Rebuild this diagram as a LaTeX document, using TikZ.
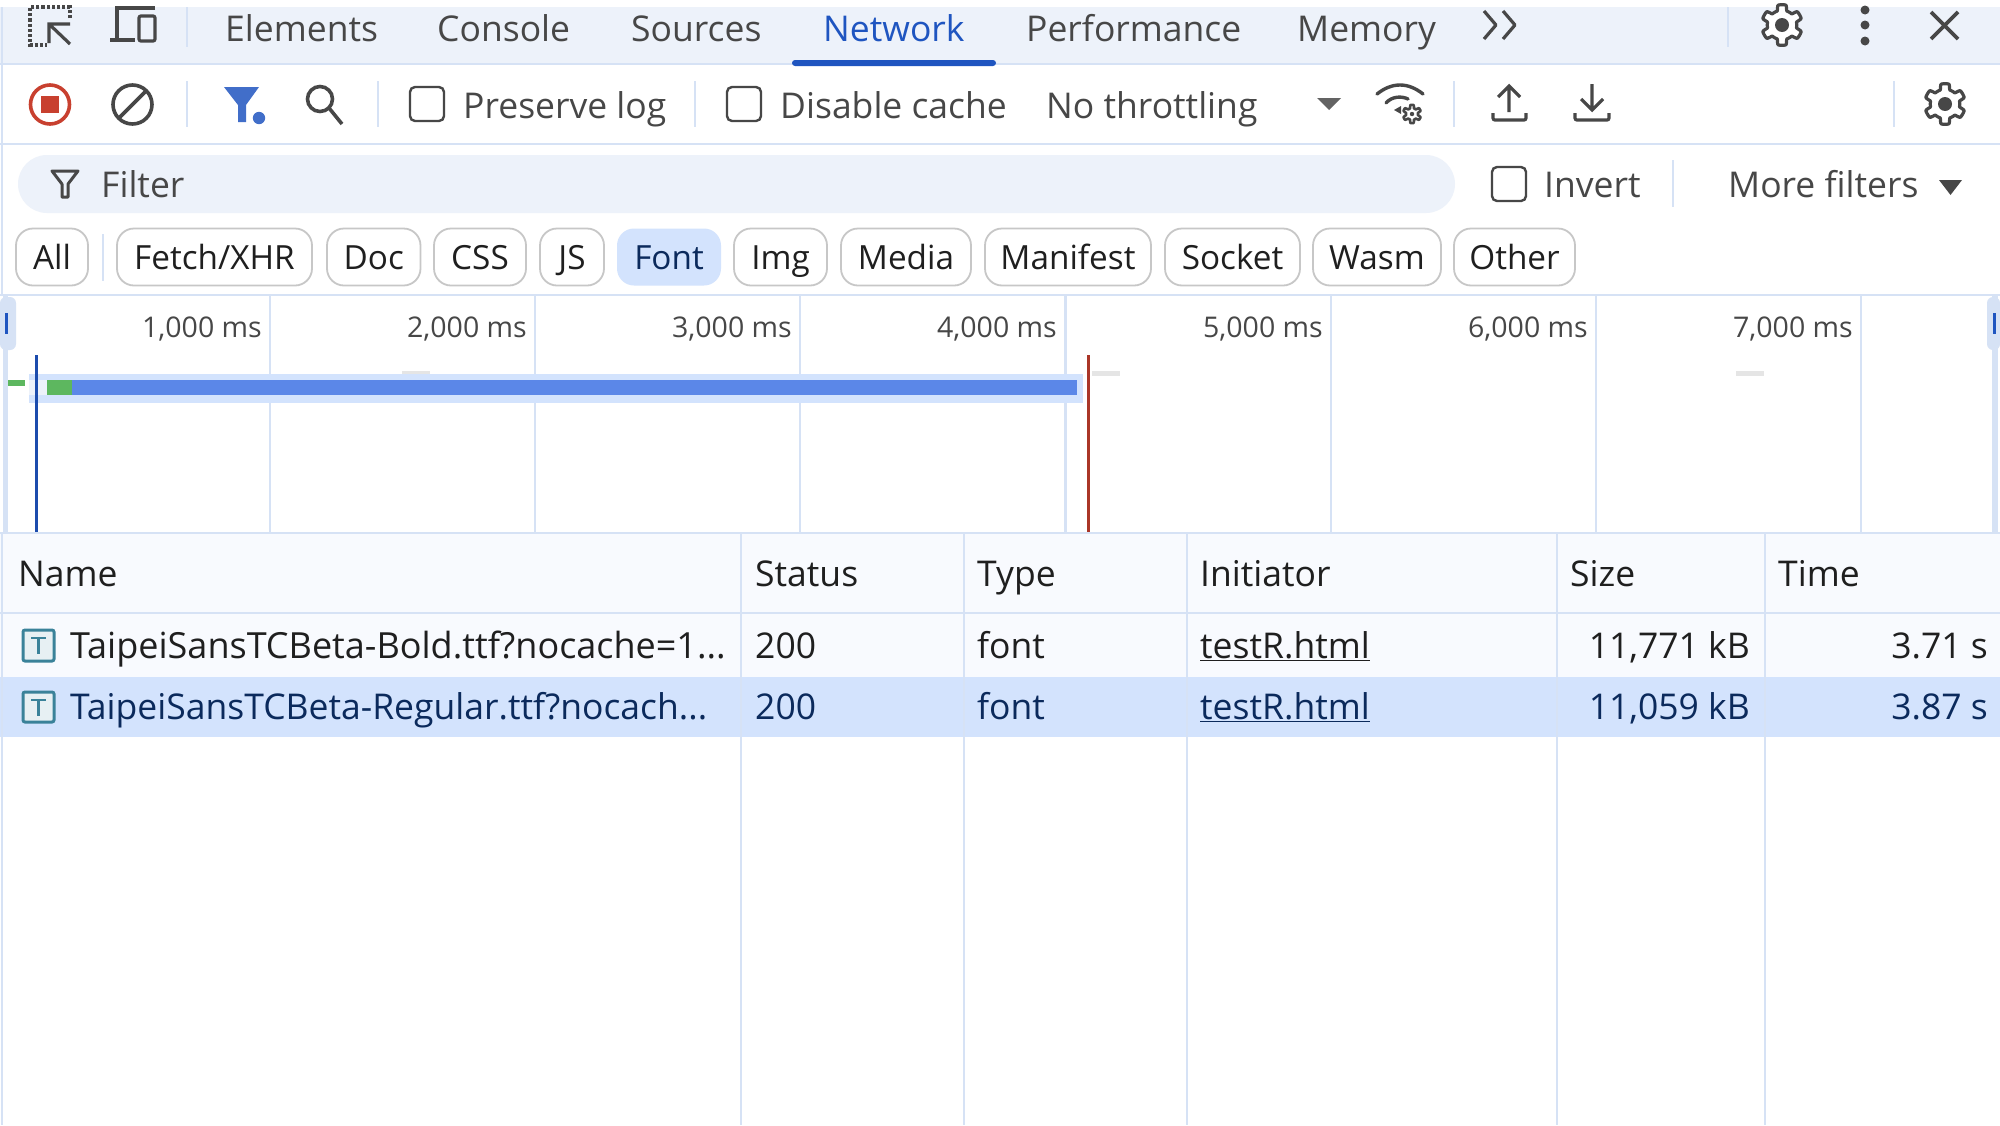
\documentclass[tikz,border=0pt]{standalone}
\usepackage{fontspec}
\setmainfont{Open Sans}
\definecolor{band}{HTML}{EDF2FA}
\definecolor{rule}{HTML}{D6E2F5}
\definecolor{sel}{HTML}{D3E3FD}
\definecolor{ink}{HTML}{474747}
\definecolor{dark}{HTML}{1F1F1F}
\definecolor{navy}{HTML}{0B2A5C}
\definecolor{netblue}{HTML}{1F55C0}
\definecolor{head}{HTML}{F8FAFE}
\definecolor{barblue}{HTML}{5B87E8}
\definecolor{bargreen}{HTML}{5DB75F}
\definecolor{recred}{HTML}{C8402F}
\definecolor{teal}{HTML}{3A8299}
\newcommand{\chipnode}[4]{\pgfmathsetmacro{\cxx}{(#2+#3)/2}\pgfmathsetmacro{\cww}{#3-#2}\node[chip,minimum width=\cww pt,#1] (chip#4) at (\cxx,257) {#4};}
\tikzset{
  x=1pt,y=-1pt,
  lbl/.style={inner sep=0pt,anchor=base west,font=\fontsize{35.5}{36}\selectfont,text=ink},
  rlbl/.style={lbl,anchor=base east},
  tick/.style={rlbl,font=\fontsize{28.5}{29}\selectfont},
  cell/.style={lbl,text=dark},
  rcell/.style={rlbl,text=dark},
  chip/.style={draw=black!22,line width=1.8pt,fill=white,rounded corners=17pt,minimum height=57pt,inner sep=0pt,text=dark,font=\fontsize{33.3}{34}\selectfont,anchor=center,text height=28pt,text depth=4pt},
  sep/.style={draw=rule,line width=2.5pt},
  icon/.style={draw=ink,line width=3.2pt},
  checkbox/.style={draw=ink,line width=2.4pt,rounded corners=5pt,fill=white},
  gearicon/.pic={
    \draw[icon,line join=round,fill=white,pic actions] plot[domain=0:360,samples=145] ({(17.5+2.8*max(min(3*cos(6*\x),1),-1))*sin(\x)},{(17.5+2.8*max(min(3*cos(6*\x),1),-1))*cos(\x)}) -- cycle;
    \fill[ink] (0,0) circle (7);
  }
}
\begin{document}
\begin{tikzpicture}
\useasboundingbox (0,0) rectangle (2000,1125);
\fill[white] (0,0) rectangle (2000,1125);
% panels
\fill[band] (0,7) rectangle (2000,64);
\fill[band,rounded corners=29pt] (18,155) rectangle (1455,213);
\fill[head] (0,534) rectangle (2000,677);
\fill[sel] (0,677) rectangle (2000,737);
% horizontal rules
\draw[sep] (0,64) -- (2000,64);
\draw[sep] (0,144) -- (2000,144);
\draw[sep] (0,295) -- (2000,295);
\draw[sep] (0,533) -- (2000,533);
\draw[sep] (0,613) -- (2000,613);
\draw[sep] (2,7) -- (2,296);
\draw[sep] (2,534) -- (2,1125);
% separators
\foreach \xx/\ya/\yb in {187/7/47,1728/7/47,187/81/127,378/81/127,695/81/127,1454/81/127,1894/81/127,1673/160/207,103/234/281}
  \draw[sep] (\xx,\ya) -- (\xx,\yb);
% grid
\foreach \xx in {270,535,800,1065.6,1331,1596,1861}
  \draw[sep] (\xx,296) -- (\xx,533);
% table columns
\foreach \xx in {741,964,1187,1557,1765}
  \draw[sep] (\xx,534) -- (\xx,1125);
% tabs
\node[lbl] (tabElements) at (225,41) {Elements};
\node[lbl] (tabConsole) at (437,41) {Console};
\node[lbl] (tabSources) at (631,41) {Sources};
\node[lbl,text=netblue] (tabNetwork) at (823,41) {Network};
\node[lbl] (tabPerformance) at (1026,41) {Performance};
\node[lbl] (tabMemory) at (1297,41) {Memory};
\fill[netblue,rounded corners=3pt] (792,60) rectangle (996,66);
\draw[icon,line join=round] (1484,11) -- (1496,25) -- (1484,39) (1503,11) -- (1515,25) -- (1503,39);
% top left icons
\draw[icon,dotted,line width=3.5pt] (70,18) -- (70,7) -- (30,7) -- (30,45) -- (47,45);
\draw[icon] (70,24) -- (49,24) -- (49,43) (49,24) -- (70,44);
\draw[icon] (155,8) -- (117,8) -- (117,40);
\draw[icon] (110,40) -- (135,40);
\draw[icon,rounded corners=2pt] (139,16) rectangle (155,41);
% top right icons
\pic at (1782,25) {gearicon};
\fill[ink] (1865,10) circle (4.5) (1865,25) circle (4.5) (1865,41) circle (4.5);
\draw[icon,line width=3.6pt] (1931,12) -- (1958,39) (1958,12) -- (1931,39);
% row 2 icons
\draw[recred,line width=3.6pt] (50,104.5) circle (19.5);
\fill[recred] (41,96) rectangle (59,113);
\draw[icon,line width=3.6pt] (132.5,104.5) circle (19.5);
\draw[icon,line width=3.6pt] (146,91) -- (119,118);
\fill[netblue!85!white] (224,87) -- (259,87) -- (246,105) -- (246,122) -- (238,122) -- (238,105) -- cycle;
\fill[netblue!85!white] (259,118) circle (6.2);
\draw[icon,line width=3.6pt] (320,99) circle (12.5);
\draw[icon,line width=3.6pt] (329,108) -- (342,124);
\draw[checkbox] (410,87) rectangle (444,121);
\node[lbl] (preserve) at (463,118) {Preserve log};
\draw[checkbox] (727,87) rectangle (761,121);
\node[lbl] (disable) at (780,118) {Disable cache};
\node[lbl] (throttle) at (1046,118) {No throttling};
\fill[ink!85!white] (1317,98) -- (1341,98) -- (1329,110) -- cycle;
% wifi
\draw[icon,line width=3.4pt,line cap=round] (1377,94) .. controls (1392,82) and (1408,82) .. (1423,94);
\draw[icon,line width=3.4pt,line cap=round] (1386,103) .. controls (1392,96) and (1402,96) .. (1408,99);
\fill[ink] (1394,110) -- (1401,106) -- (1401,114) -- cycle;
\begin{scope}[shift={(1412,114)}]
\draw[ink,line width=2.6pt,line join=round] plot[domain=0:360,samples=73] ({(7.5+1.6*max(min(3*cos(6*\x),1),-1))*sin(\x)},{(7.5+1.6*max(min(3*cos(6*\x),1),-1))*cos(\x)}) -- cycle;
\fill[ink] (0,0) circle (2.2);
\end{scope}
% upload/download
\draw[icon] (1509,112) -- (1509,87) (1498,97) -- (1509,86) -- (1520,97);
\draw[icon,rounded corners=2pt] (1493,113) -- (1493,120) -- (1526,120) -- (1526,113);
\draw[icon] (1592,84) -- (1592,110) (1581,99) -- (1592,110) -- (1603,99);
\draw[icon,rounded corners=2pt] (1575,113) -- (1575,120) -- (1609,120) -- (1609,113);
\pic at (1945,104) {gearicon};
% filter row
\draw[icon,line join=round,line width=3pt] (52,171) -- (78,171) -- (68,184) -- (68,197) -- (62,197) -- (62,184) -- cycle;
\node[lbl] (filter) at (101,197) {Filter};
\draw[checkbox] (1492,167) rectangle (1526,201);
\node[lbl] (invert) at (1544,197) {Invert};
\node[lbl] (morefilters) at (1728,197) {More filters};
\fill[ink] (1939,180) -- (1962,180) -- (1950.5,195) -- cycle;
% chips
\chipnode{}{16}{88}{All}
\pgfmathsetmacro{\cxx}{(117+312)/2}
\node[chip,minimum width=195pt] (chipFetch) at (\cxx,257) {Fetch/XHR};
\chipnode{}{327}{420.5}{Doc}
\chipnode{}{434}{526}{CSS}
\chipnode{}{540}{604}{JS}
\chipnode{draw=none,fill=sel,text=navy}{617}{721}{Font}
\chipnode{}{734}{827}{Img}
\chipnode{}{841}{971}{Media}
\chipnode{}{985}{1151}{Manifest}
\chipnode{}{1165}{1300}{Socket}
\chipnode{}{1313}{1441}{Wasm}
\chipnode{}{1454}{1575}{Other}
% timeline labels
\node[tick] (t1) at (262,337) {1,000 ms};
\node[tick] (t2) at (527,337) {2,000 ms};
\node[tick] (t3) at (792,337) {3,000 ms};
\node[tick] (t4) at (1057,337) {4,000 ms};
\node[tick] (t5) at (1323,337) {5,000 ms};
\node[tick] (t6) at (1588,337) {6,000 ms};
\node[tick] (t7) at (1853,337) {7,000 ms};
% overview
\fill[rule] (3,296) rectangle (8,533);
\fill[rule,rounded corners=6pt] (0,297) rectangle (16,350);
\fill[netblue] (5,313) rectangle (8,334);
\fill[rule] (1992,296) rectangle (1998,533);
\fill[rule,rounded corners=6pt] (1987,297) rectangle (2000,350);
\fill[netblue] (1993,313) rectangle (1996,334);
\fill[black!10] (402,371) rectangle (430,375);
\fill[black!10] (1092,371) rectangle (1120,376);
\fill[black!10] (1736,371) rectangle (1764,376);
\fill[sel] (29,374) rectangle (1083,403);
\fill[band] (29,380) rectangle (47,395);
\fill[barblue] (72,380) rectangle (1077,395);
\fill[bargreen] (47,380) rectangle (72,395);
\fill[bargreen] (8,380) rectangle (25,386);
\draw[netblue!90!black,line width=3pt] (36.5,355) -- (36.5,532);
\draw[recred!85!black,line width=3pt] (1088,355) -- (1088,532);
% table header
\node[cell] (hName) at (18,586) {Name};
\node[cell] (hStatus) at (755,586) {Status};
\node[cell] (hType) at (977,586) {Type};
\node[cell] (hInit) at (1200,586) {Initiator};
\node[cell] (hSize) at (1570,586) {Size};
\node[cell] (hTime) at (1778,586) {Time};
% row 1
\draw[teal,line width=3pt,fill=teal!12,rounded corners=2pt] (23,630) rectangle (54,661);
\draw[teal,line width=2.6pt] (31,638) -- (46,638) (38.5,638) -- (38.5,654);
\node[cell,font=\fontsize{36}{36}\selectfont] (r1name) at (70,658) {TaipeiSansTCBeta-Bold.ttf?nocache=1...};
\node[cell] (r1st) at (755,658) {200};
\node[cell] (r1ty) at (977,658) {font};
\node[cell] (r1in) at (1200,658) {\underline{testR.html}};
\node[rcell] (r1si) at (1750,658) {11,771 kB};
\node[rcell] (r1ti) at (1988,658) {3.71 s};
% row 2
\draw[teal,line width=3pt,fill=teal!12,rounded corners=2pt] (23,692) rectangle (54,722);
\draw[teal,line width=2.6pt] (31,700) -- (46,700) (38.5,700) -- (38.5,716);
\node[cell,text=navy] (r2name) at (70,719) {TaipeiSansTCBeta-Regular.ttf?nocach...};
\node[cell,text=navy] (r2st) at (755,719) {200};
\node[cell,text=navy] (r2ty) at (977,719) {font};
\node[cell,text=navy] (r2in) at (1200,719) {\underline{testR.html}};
\node[rcell,text=navy] (r2si) at (1750,719) {11,059 kB};
\node[rcell,text=navy] (r2ti) at (1988,719) {3.87 s};
\end{tikzpicture}
\end{document}
